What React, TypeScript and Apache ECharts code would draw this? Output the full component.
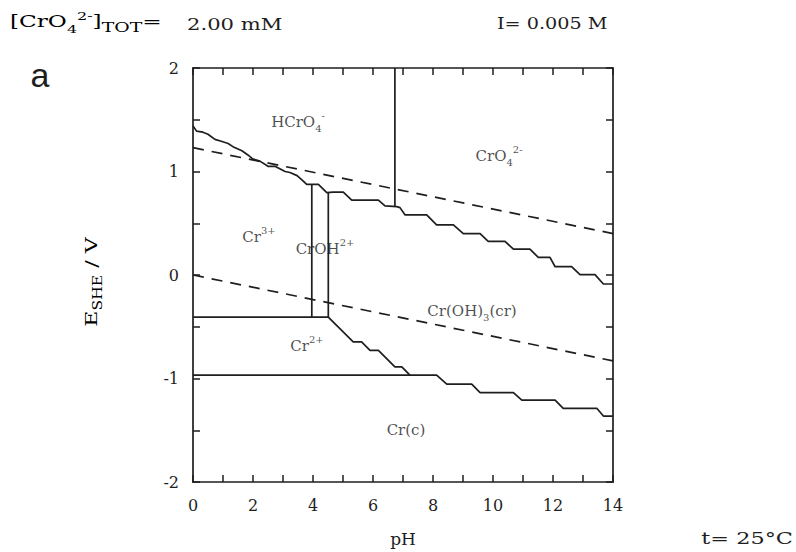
import React, { useEffect, useRef } from "react";
import * as echarts from "echarts";

// ---- data (pH, E / V) ----
const xTickLabels = [0, 2, 4, 6, 8, 10, 12, 14];
const yTickLabels = [-2, -1, 0, 1, 2];

// HCrO4- / Cr3+, CrOH2+, Cr(OH)3 and CrO4 2- / Cr(OH)3 boundary
const upperBoundary: [number, number][] = [
  [0, 1.44], [0.12, 1.39], [0.33, 1.38], [0.5, 1.36], [0.73, 1.31], [0.97, 1.29],
  [1.17, 1.27], [1.33, 1.24], [1.63, 1.2], [1.83, 1.16], [2.0, 1.12], [2.23, 1.1],
  [2.5, 1.05], [2.73, 1.05], [3.07, 1.0], [3.23, 0.99], [3.47, 0.96], [3.63, 0.92],
  [3.79, 0.875], [4.18, 0.875], [4.46, 0.795], [4.67, 0.8], [5.01, 0.8], [5.29, 0.724],
  [6.18, 0.724], [6.4, 0.667], [6.79, 0.66], [6.9, 0.651], [7.07, 0.58], [7.79, 0.58],
  [8.12, 0.484], [8.68, 0.484], [9.01, 0.4], [9.57, 0.4], [9.84, 0.324], [10.4, 0.324],
  [10.68, 0.25], [11.23, 0.25], [11.51, 0.17], [11.9, 0.17], [12.07, 0.08], [12.62, 0.08],
  [12.9, 0.003], [13.4, 0.003], [13.68, -0.087], [14, -0.087],
];
// Cr2+ / Cr(c) then Cr(OH)3 / Cr(c)
const lowerBoundary: [number, number][] = [
  [0, -0.968], [8.12, -0.968], [8.46, -1.055], [9.29, -1.055], [9.57, -1.137],
  [10.68, -1.137], [10.96, -1.209], [12.07, -1.209], [12.34, -1.288], [13.46, -1.288],
  [13.68, -1.363], [14, -1.363],
];
// Cr3+ / Cr2+ then Cr2+ / Cr(OH)3
const cr2Boundary: [number, number][] = [
  [0, -0.407], [4.51, -0.407], [5.34, -0.647], [5.62, -0.647], [5.9, -0.728],
  [6.18, -0.728], [6.73, -0.888], [6.96, -0.888], [7.23, -0.968],
];
const cr3CrOHBoundary: [number, number][] = [[3.96, 0.875], [3.96, -0.407]];
const crOHCrOH3Boundary: [number, number][] = [[4.51, 0.795], [4.51, -0.407]];
const hcro4Cro4Boundary: [number, number][] = [[6.73, 2], [6.73, 0.66]];
const oxygenLine: [number, number][] = [[0, 1.23], [14, 0.4]];
const hydrogenLine: [number, number][] = [[0, 0], [14, -0.83]];

const regionNames = ["HCrO4-", "CrO42-", "Cr3+", "CrOH2+", "Cr(OH)3(cr)", "Cr2+", "Cr(c)"];
const regionPH = [3.5, 10.2, 2.2, 4.4, 9.3, 3.8, 7.1];
const regionE = [1.48, 1.15, 0.37, 0.25, -0.35, -0.69, -1.5];

const regionRich: Record<string, string> = {
  "HCrO4-": "{b|HCrO}{s|4}{p|-}",
  "CrO42-": "{b|CrO}{s|4}{p|2-}",
  "Cr3+": "{b|Cr}{p|3+}",
  "CrOH2+": "{b|CrOH}{p|2+}",
  "Cr(OH)3(cr)": "{b|Cr(OH)}{s|3}{b|(cr)}",
  "Cr2+": "{b|Cr}{p|2+}",
  "Cr(c)": "{b|Cr(c)}",
};

const SERIF = "DejaVu Serif";
const INK = "#1e1e1e";

const richStyles = (size: number) => ({
  b: { fontFamily: SERIF, fontSize: size, color: INK, lineHeight: size + 8, verticalAlign: "middle" },
  s: { fontFamily: SERIF, fontSize: Math.round(size * 0.68), color: INK, lineHeight: 10, verticalAlign: "bottom" },
  p: { fontFamily: SERIF, fontSize: Math.round(size * 0.68), color: INK, lineHeight: 10, verticalAlign: "top" },
});

export default function App() {
  const ref = useRef<HTMLDivElement>(null);
  useEffect(() => {
    if (!ref.current) return;
    const chart = echarts.init(ref.current, undefined, { renderer: "svg" });
    const lineSeries = (data: [number, number][], dashed = false) => ({
      type: "line",
      data,
      symbol: "none",
      silent: true,
      lineStyle: { color: INK, width: 1.7, type: dashed ? [11, 8] : "solid" },
    });
    const axisCommon = {
      type: "value",
      axisLine: { show: true, onZero: false, lineStyle: { color: INK, width: 1.7 } },
      axisTick: { show: true, inside: true, length: 7, lineStyle: { color: INK, width: 1.5 } },
      splitLine: { show: false },
    };
    chart.setOption({
      animation: false,
      backgroundColor: "#ffffff",
      grid: { left: 193, top: 68, width: 420, height: 416, containLabel: false },
      xAxis: [
        {
          ...axisCommon,
          min: 0,
          max: 14,
          interval: 1,
          position: "bottom",
          name: "pH",
          nameLocation: "middle",
          nameGap: 48,
          nameTextStyle: { fontFamily: SERIF, fontSize: 17, color: INK },
          axisLabel: {
            margin: 15,
            fontFamily: SERIF,
            fontSize: 16,
            color: INK,
            formatter: (v: number) => (xTickLabels.includes(v) ? String(v) : ""),
          },
        },
        { ...axisCommon, min: 0, max: 14, interval: 1, position: "top", axisLabel: { show: false } },
      ],
      yAxis: [
        {
          ...axisCommon,
          min: -2,
          max: 2,
          interval: 0.5,
          position: "left",
          axisLabel: {
            margin: 14,
            fontFamily: SERIF,
            fontSize: 16,
            color: INK,
            formatter: (v: number) => (yTickLabels.includes(v) ? String(v) : ""),
          },
        },
        { ...axisCommon, min: -2, max: 2, interval: 0.5, position: "right", axisLabel: { show: false } },
      ],
      series: [
        lineSeries(upperBoundary),
        lineSeries(lowerBoundary),
        lineSeries(cr2Boundary),
        lineSeries(cr3CrOHBoundary),
        lineSeries(crOHCrOH3Boundary),
        lineSeries(hcro4Cro4Boundary),
        lineSeries(oxygenLine, true),
        lineSeries(hydrogenLine, true),
        {
          type: "scatter",
          silent: true,
          symbolSize: 1,
          itemStyle: { color: "rgba(0,0,0,0)" },
          data: regionNames.map((n, i) => ({ name: n, value: [regionPH[i], regionE[i]] })),
          label: {
            show: true,
            position: "inside",
            formatter: (p: any) => regionRich[p.name],
            rich: richStyles(15),
          },
        },
      ],
      graphic: [
        {
          type: "text",
          x: 10,
          y: 22,
          scaleX: 1.45,
          style: {
            text: "{b|[CrO}{s|4}{p|2-}{b|]}{t|TOT}{b|=}",
            verticalAlign: "middle",
            rich: {
              ...richStyles(16),
              t: { fontFamily: SERIF, fontSize: 13, color: INK, lineHeight: 12, verticalAlign: "bottom" },
            },
          },
        },
        {
          type: "text",
          x: 187,
          y: 24,
          scaleX: 1.32,
          style: { text: "2.00 mM", font: `16px "${SERIF}"`, fill: INK, verticalAlign: "middle" },
        },
        {
          type: "text",
          x: 497,
          y: 24,
          scaleX: 1.2,
          style: { text: "I= 0.005 M", font: `16px "${SERIF}"`, fill: INK, verticalAlign: "middle" },
        },
        {
          type: "text",
          x: 40,
          y: 75,
          style: {
            text: "a",
            font: `34px "Liberation Sans"`,
            fill: INK,
            align: "center",
            verticalAlign: "middle",
          },
        },
        {
          type: "text",
          x: 793,
          y: 539,
          scaleX: 1.4,
          style: { text: "t= 25°C", font: `16px "${SERIF}"`, fill: INK, align: "right", verticalAlign: "middle" },
        },
        {
          type: "text",
          x: 91,
          y: 282,
          rotation: Math.PI / 2,
          scaleX: 1.3,
          style: {
            text: "{b|E}{s|SHE}{b| / V}",
            align: "center",
            verticalAlign: "middle",
            rich: richStyles(17),
          },
        },
      ],
    });
    return () => chart.dispose();
  }, []);
  return (
    <div
      ref={ref}
      style={{ position: "absolute", left: 0, top: 0, width: 796, height: 552, background: "#fff" }}
    />
  );
}
